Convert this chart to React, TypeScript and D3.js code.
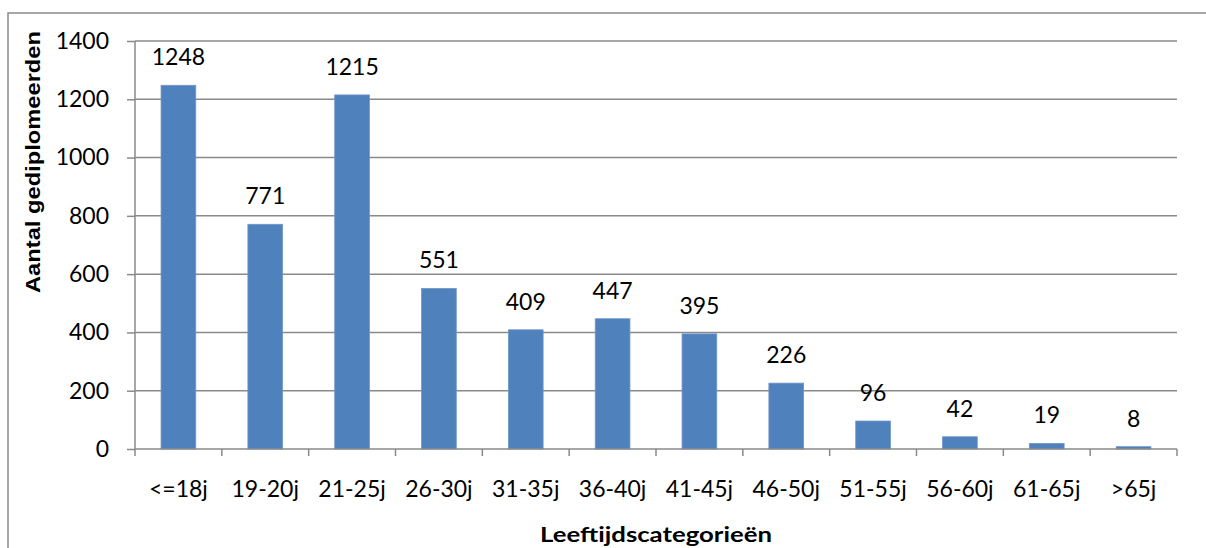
import React, { useRef, useEffect } from 'react';
import * as d3 from 'd3';

const categories = ['<=18j', '19-20j', '21-25j', '26-30j', '31-35j', '36-40j', '41-45j', '46-50j', '51-55j', '56-60j', '61-65j', '>65j'];
const values = [1248, 771, 1215, 551, 409, 447, 395, 226, 96, 42, 19, 8];
const yTicks = [0, 200, 400, 600, 800, 1000, 1200, 1400];
const yTitle = 'Aantal gediplomeerden';
const xTitle = 'Leeftijdscategorieën';

export default function App() {
  const chartRef = useRef<SVGSVGElement>(null);

  useEffect(() => {
    if (!chartRef.current) return;
    const root = d3.select(chartRef.current);
    root.selectAll('*').remove();

    const width = 1206;
    const height = 548;
    const margin = { top: 41, right: 29, bottom: 99, left: 135 };
    const innerWidth = width - margin.left - margin.right;
    const innerHeight = height - margin.top - margin.bottom;
    const font = 'Lato, Carlito, Calibri, sans-serif';
    const gray = '#8a8a8a';

    // outer chart border (runs past the page on the right and bottom)
    root.append('rect')
      .attr('x', 8).attr('y', 13)
      .attr('width', 1220).attr('height', 560)
      .attr('fill', '#fff')
      .attr('stroke', gray)
      .attr('stroke-width', 1.5);

    const svg = root.append('g')
      .attr('transform', `translate(${margin.left},${margin.top})`);

    const x = d3.scaleBand()
      .domain(categories)
      .range([0, innerWidth])
      .paddingInner(0.6)
      .paddingOuter(0.3);

    const y = d3.scaleLinear()
      .domain([0, 1400])
      .range([innerHeight, 0]);

    // grid lines
    svg.selectAll('.grid')
      .data(yTicks.filter(d => d > 0))
      .enter()
      .append('line')
      .attr('x1', 0).attr('x2', innerWidth)
      .attr('y1', d => y(d)).attr('y2', d => y(d))
      .attr('stroke', gray)
      .attr('stroke-width', 1.5);

    // bars
    svg.selectAll('.bar')
      .data(values)
      .enter()
      .append('rect')
      .attr('x', (_, i) => x(categories[i]) as number)
      .attr('y', d => y(d))
      .attr('width', x.bandwidth())
      .attr('height', d => innerHeight - y(d))
      .attr('fill', '#4f81bd')
      .attr('stroke', '#6f97c8')
      .attr('stroke-width', 0.8);

    // value labels
    svg.selectAll('.val')
      .data(values)
      .enter()
      .append('text')
      .attr('x', (_, i) => (x(categories[i]) as number) + x.bandwidth() / 2)
      .attr('y', d => y(d) - 20)
      .attr('text-anchor', 'middle')
      .attr('font-family', font)
      .attr('font-size', 23)
      .attr('fill', '#000')
      .text(d => d);

    // y axis
    const yAxis = svg.append('g')
      .call(d3.axisLeft(y).tickValues(yTicks).tickSize(8).tickPadding(18).tickFormat(d3.format('d')));
    yAxis.select('.domain').attr('stroke', gray).attr('stroke-width', 1.5).attr('d', `M0,0V${innerHeight}`);
    yAxis.selectAll('line').attr('stroke', gray).attr('stroke-width', 1.5);
    yAxis.selectAll('text')
      .attr('font-family', font).attr('font-size', 23).attr('fill', '#000');

    // x axis
    const xAxis = svg.append('g')
      .attr('transform', `translate(0,${innerHeight})`)
      .call(d3.axisBottom(x).tickSize(0).tickPadding(32));
    xAxis.select('.domain').attr('stroke', gray).attr('stroke-width', 1.5).attr('d', `M0,0H${innerWidth}`);
    xAxis.selectAll('text')
      .attr('font-family', font).attr('font-size', 23).attr('fill', '#000');

    // category boundary tick marks
    const step = innerWidth / categories.length;
    xAxis.selectAll('.bound')
      .data(d3.range(categories.length + 1))
      .enter()
      .append('line')
      .attr('x1', d => d * step).attr('x2', d => d * step)
      .attr('y1', 0).attr('y2', 7)
      .attr('stroke', gray)
      .attr('stroke-width', 1.5);

    // axis titles
    root.append('text')
      .attr('transform', `translate(40,162) rotate(-90)`)
      .attr('text-anchor', 'middle')
      .attr('font-family', 'Liberation Sans, Arial, sans-serif')
      .attr('font-weight', 'bold')
      .attr('font-size', 20)
      .attr('textLength', 262)
      .attr('lengthAdjust', 'spacingAndGlyphs')
      .text(yTitle);

    root.append('text')
      .attr('x', 656).attr('y', 542)
      .attr('text-anchor', 'middle')
      .attr('font-family', font)
      .attr('font-weight', 'bold')
      .attr('font-size', 21)
      .attr('textLength', 232)
      .attr('lengthAdjust', 'spacingAndGlyphs')
      .text(xTitle);
  }, []);

  return (
    <svg
      ref={chartRef}
      width={1206}
      height={548}
      style={{ position: 'absolute', left: 0, top: 0, background: '#fff' }}
    />
  );
}
